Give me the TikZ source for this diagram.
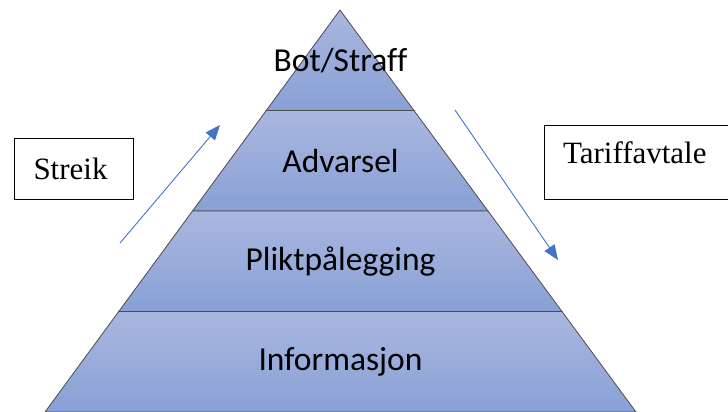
\documentclass[tikz,border=0pt]{standalone}
\usepackage{fontspec}
\setmainfont[Ligatures=CommonOff]{Liberation Serif}
\newfontfamily\layerfont[Ligatures=CommonOff]{Carlito}
\usetikzlibrary{calc}
\usetikzlibrary{arrows.meta}
\definecolor{layertop}{RGB}{169,183,223}
\definecolor{layerbot}{RGB}{137,160,214}
\definecolor{flowblue}{RGB}{68,114,196}

\begin{document}
\begin{tikzpicture}[x=1pt,y=-1pt,
    layer/.style={draw=black!70, line width=0.8pt, top color=layertop, bottom color=layerbot},
    layerlabel/.style={font=\layerfont\fontsize{33.5}{40}\selectfont, inner sep=0pt},
    sidebox/.style={draw=black, line width=0.8pt, fill=white, inner sep=0pt, font=\fontsize{31}{37}\selectfont},
    flow/.style={draw=flowblue, line width=0.9pt, -{Triangle[length=15pt,width=12pt]}, flowblue}]
    \useasboundingbox (0,0) rectangle (728,412);
    \coordinate (apex) at (340,10);
    \coordinate (bl) at (45,412);
    \coordinate (br) at (636,412);
    % pyramid layers, top to bottom
    \foreach \i/\txt in {0/{Bot/Straff},1/Advarsel,2/Pliktpålegging,3/Informasjon} {
        \pgfmathsetmacro\ta{\i/4}
        \pgfmathsetmacro\tb{(\i+1)/4}
        \path[layer] ($(apex)!\ta!(bl)$) -- ($(apex)!\tb!(bl)$) -- ($(apex)!\tb!(br)$) -- ($(apex)!\ta!(br)$) -- cycle;
        \node[layerlabel] (layer\i) at (340.5,{10+100.5*(\i+0.5)}) {\txt};
    }
    % side labels
    \node[sidebox, minimum width=119pt, minimum height=61pt, text width=80pt, align=left] (streik) at (73.5,168.5) {Streik};
    \node[sidebox, minimum width=188pt, minimum height=74pt, text depth=19pt, text width=150pt, align=left] (tariff) at (638,162) {Tariffavtale};
    % arrows
    \coordinate (up0) at (120,243);
    \coordinate (up1) at (220,125);
    \coordinate (down0) at (455,110);
    \coordinate (down1) at (558,260);
    \draw[flow] (up0) -- (up1);
    \draw[flow] (down0) -- (down1);
\end{tikzpicture}
\end{document}
